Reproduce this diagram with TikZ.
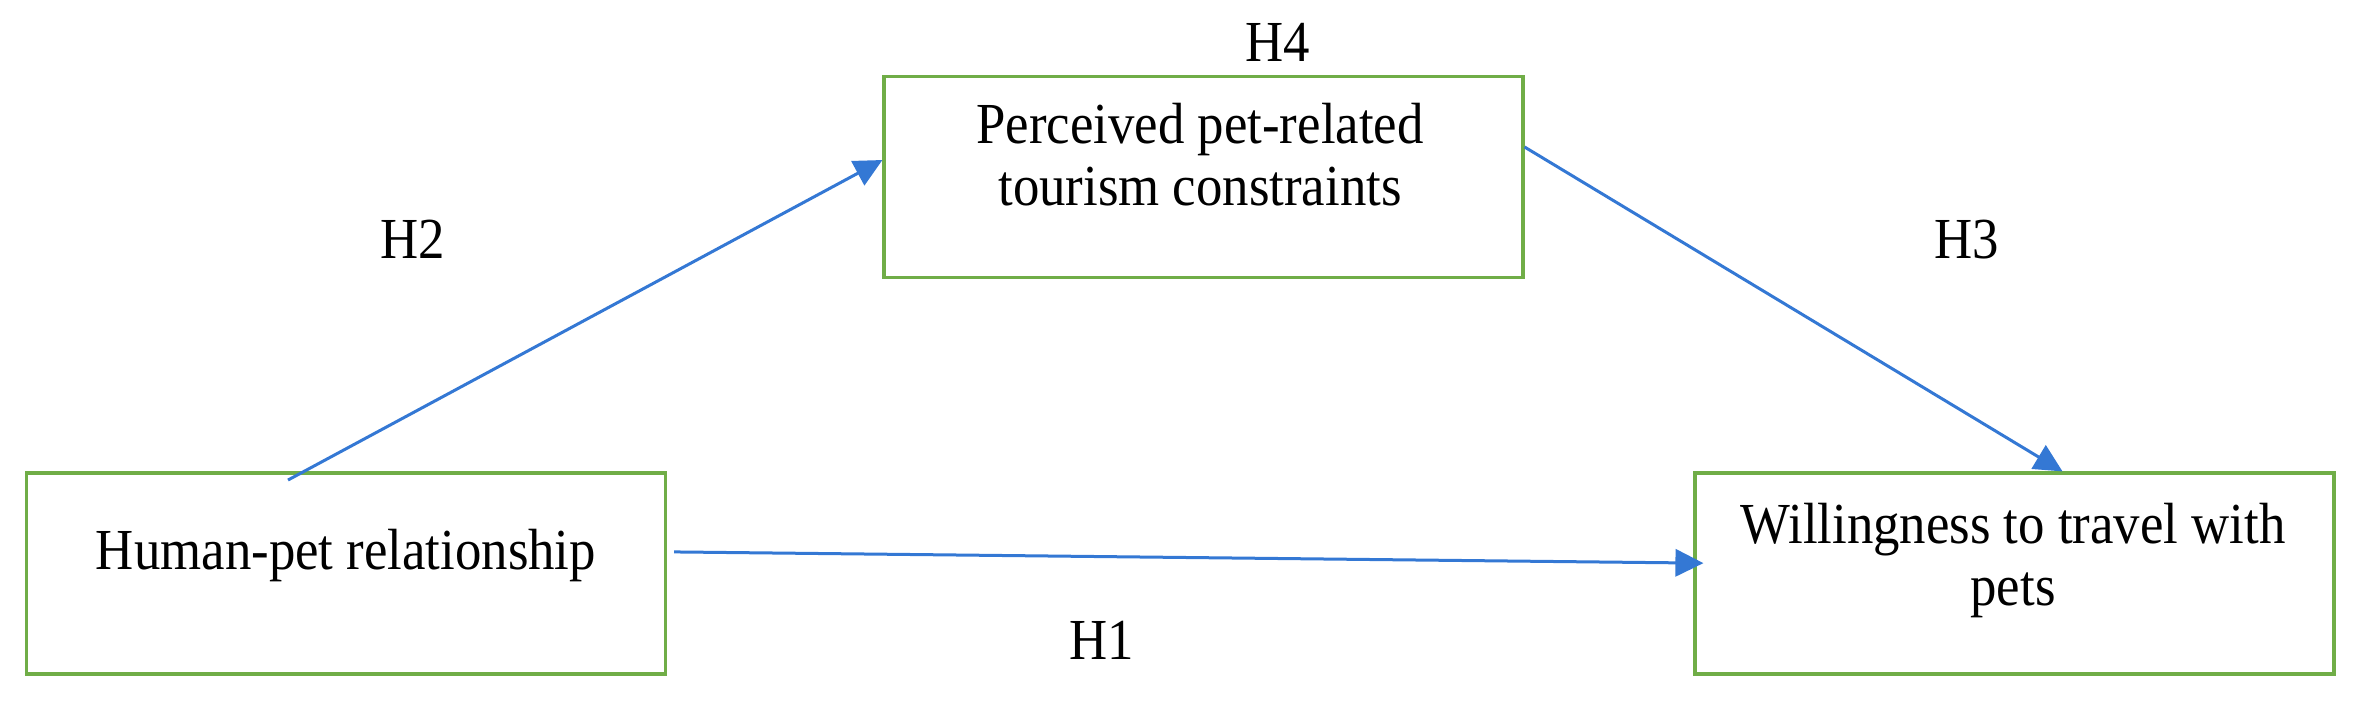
\documentclass[tikz,border=0pt]{standalone}
\usepackage{graphicx}
\usepackage{fontspec}
\setmainfont{Liberation Serif}
\usetikzlibrary{arrows.meta}
\definecolor{boxgreen}{RGB}{112,173,71}
\definecolor{arrblue}{RGB}{52,120,212}
\newcommand{\vtall}[1]{\scalebox{1}[1.1]{#1}}
\begin{document}
\begin{tikzpicture}[x=0.25pt,y=-0.25pt,
  box/.style={draw=boxgreen,line width=0.8pt,rectangle,inner sep=0pt,minimum width=159.75pt,minimum height=50.25pt},
  lbl/.style={font=\fontsize{13.2pt}{15.5pt}\selectfont,inner sep=0pt,anchor=base,align=center},
  link/.style={draw=arrblue,line width=0.75pt,-{Triangle[length=7pt,width=6.8pt]}}]
\useasboundingbox (0,0) rectangle (2361,701);
% boxes
\node[box] (pc) at (1203.5,177) {};
\node[box] (hr) at (346,573.5) {};
\node[box] (wt) at (2014.5,573.5) {};
% box texts (base anchor = baseline of the last line)
\node[lbl] (pctext) at (1200,205) {\vtall{Perceived pet-related}\\\vtall{tourism constraints}};
\node[lbl] (hrtext) at (346,569) {\vtall{Human-pet relationship}};
\node[lbl] (wttext) at (2013,605) {\vtall{Willingness to travel with}\\\vtall{pets}};
% hypothesis labels
\node[lbl] (h4) at (1277.5,61) {\vtall{H4}};
\node[lbl] (h2) at (413,258) {\vtall{H2}};
\node[lbl] (h3) at (1967,258) {\vtall{H3}};
\node[lbl] (h1) at (1102,659) {\vtall{H1}};
% connectors
\coordinate (h2start) at (288,480);
\draw[link] (h2start) -- ([yshift=4.25pt]pc.west);
\draw[link] ([yshift=7.5pt]pc.east) -- ([xshift=12pt]wt.north);
\draw[link] ([xshift=1.75pt,yshift=5.4pt]hr.east) -- ([xshift=2.5pt,yshift=2.6pt]wt.west);
\end{tikzpicture}
\end{document}
